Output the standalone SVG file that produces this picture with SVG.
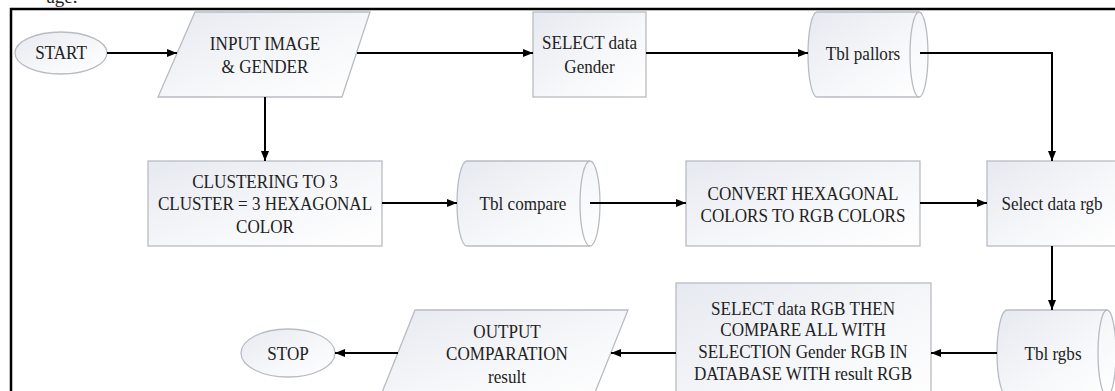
<svg xmlns="http://www.w3.org/2000/svg" width="1115" height="391" viewBox="0 0 1115 391" font-family="'Liberation Serif', 'Times New Roman', serif">
<defs>
<linearGradient id="g" x1="0" y1="0" x2="1" y2="1">
<stop offset="0" stop-color="#e6e9f0"/>
<stop offset="0.6" stop-color="#f7f8fa"/>
<stop offset="1" stop-color="#ffffff"/>
</linearGradient>
<marker id="ah" markerUnits="userSpaceOnUse" markerWidth="10" markerHeight="8" refX="10" refY="4" orient="auto">
<path d="M0,0 L10,4 L0,8 z" fill="#000"/>
</marker>
</defs>
<style>
.s{fill:url(#g);stroke:#b8bcc2;stroke-width:1.3}
.e{fill:none;stroke:#b8bcc2;stroke-width:1.3}
.t{font-family:'Liberation Serif','Times New Roman',serif;font-size:19px;fill:#222;text-anchor:middle}
.c{fill:none;stroke:#000;stroke-width:2;marker-end:url(#ah)}
</style>
<rect width="1115" height="391" fill="#fff"/>
<text class="t" x="62" y="3" font-size="20">age.</text>
<rect x="11" y="9" width="1120" height="400" fill="none" stroke="#000" stroke-width="2.5"/>

<g id="start">
<ellipse class="s" cx="61" cy="53" rx="46" ry="21"/>
<text class="t" transform="translate(61 59) scale(0.9 1)">START</text>
</g>
<g id="input">
<polygon class="s" points="195,12 370,12 342,97 158,97"/>
<text class="t" transform="translate(265 50) scale(0.9 1)">INPUT IMAGE</text>
<text class="t" transform="translate(265 73) scale(0.9 1)">&amp; GENDER</text>
</g>
<g id="selectGender">
<rect class="s" x="533" y="12" width="113" height="85"/>
<text class="t" transform="translate(589.5 49) scale(0.9 1)">SELECT data</text>
<text class="t" transform="translate(589.5 73) scale(0.9 1)">Gender</text>
</g>
<g id="tblPallors">
<path class="s" d="M817,12 L919,12 A9,42.5 0 0 1 919,97 L817,97 A9,42.5 0 0 1 817,12 Z"/>
<path class="e" d="M919,97 A9,42.5 0 0 1 919,12"/>
<text class="t" transform="translate(863 60) scale(0.9 1)">Tbl pallors</text>
</g>
<g id="clustering">
<rect class="s" x="148" y="161" width="234" height="85"/>
<text class="t" transform="translate(265 188) scale(0.9 1)">CLUSTERING TO 3</text>
<text class="t" transform="translate(265 210) scale(0.9 1)">CLUSTER = 3 HEXAGONAL</text>
<text class="t" transform="translate(265 233) scale(0.9 1)">COLOR</text>
</g>
<g id="tblCompare">
<path class="s" d="M467,161 L590,161 A10,42.5 0 0 1 590,246 L467,246 A10,42.5 0 0 1 467,161 Z"/>
<path class="e" d="M590,246 A10,42.5 0 0 1 590,161"/>
<text class="t" transform="translate(523 210) scale(0.9 1)">Tbl compare</text>
</g>
<g id="convert">
<rect class="s" x="686" y="161" width="234" height="85"/>
<text class="t" transform="translate(803 200) scale(0.9 1)">CONVERT HEXAGONAL</text>
<text class="t" transform="translate(803 222) scale(0.9 1)">COLORS TO RGB COLORS</text>
</g>
<g id="selectRgb">
<rect class="s" x="987" y="161" width="132" height="85"/>
<text class="t" transform="translate(1052 210) scale(0.9 1)">Select data rgb</text>
</g>
<g id="tblRgbs">
<path class="s" d="M1007,310 L1107,310 A9,43 0 0 1 1107,396 L1007,396 A10,43 0 0 1 1007,310 Z"/>
<path class="e" d="M1107,396 A9,43 0 0 1 1107,310"/>
<text class="t" transform="translate(1053 360) scale(0.9 1)">Tbl rgbs</text>
</g>
<g id="compare">
<rect class="s" x="676" y="283" width="255" height="130"/>
<text class="t" transform="translate(803 315) scale(0.9 1)">SELECT data RGB THEN</text>
<text class="t" transform="translate(803 336) scale(0.9 1)">COMPARE ALL WITH</text>
<text class="t" transform="translate(803 358) scale(0.9 1)">SELECTION Gender RGB IN</text>
<text class="t" transform="translate(803 380) scale(0.9 1)">DATABASE WITH result RGB</text>
</g>
<g id="output">
<polygon class="s" points="415,310 628,310 592,400 379,400"/>
<text class="t" transform="translate(507 338) scale(0.9 1)">OUTPUT</text>
<text class="t" transform="translate(507 360) scale(0.9 1)">COMPARATION</text>
<text class="t" transform="translate(507 383) scale(0.9 1)">result</text>
</g>
<g id="stop">
<ellipse class="s" cx="288" cy="353" rx="47" ry="24"/>
<text class="t" transform="translate(288 360) scale(0.9 1)">STOP</text>
</g>

<g id="connectors">
<path class="c" d="M107,53 L177,53"/>
<path class="c" d="M357,53 L533,53"/>
<path class="c" d="M646,53 L808,53"/>
<path class="c" d="M920,53 L1052,53 L1052,161"/>
<path class="c" d="M265,97 L265,161"/>
<path class="c" d="M382,203 L457,203"/>
<path class="c" d="M590,203 L686,203"/>
<path class="c" d="M920,203 L987,203"/>
<path class="c" d="M1052,246 L1052,310"/>
<path class="c" d="M997,353 L931,353"/>
<path class="c" d="M676,353 L611,353"/>
<path class="c" d="M398,353 L335,353"/>
</g>
</svg>
